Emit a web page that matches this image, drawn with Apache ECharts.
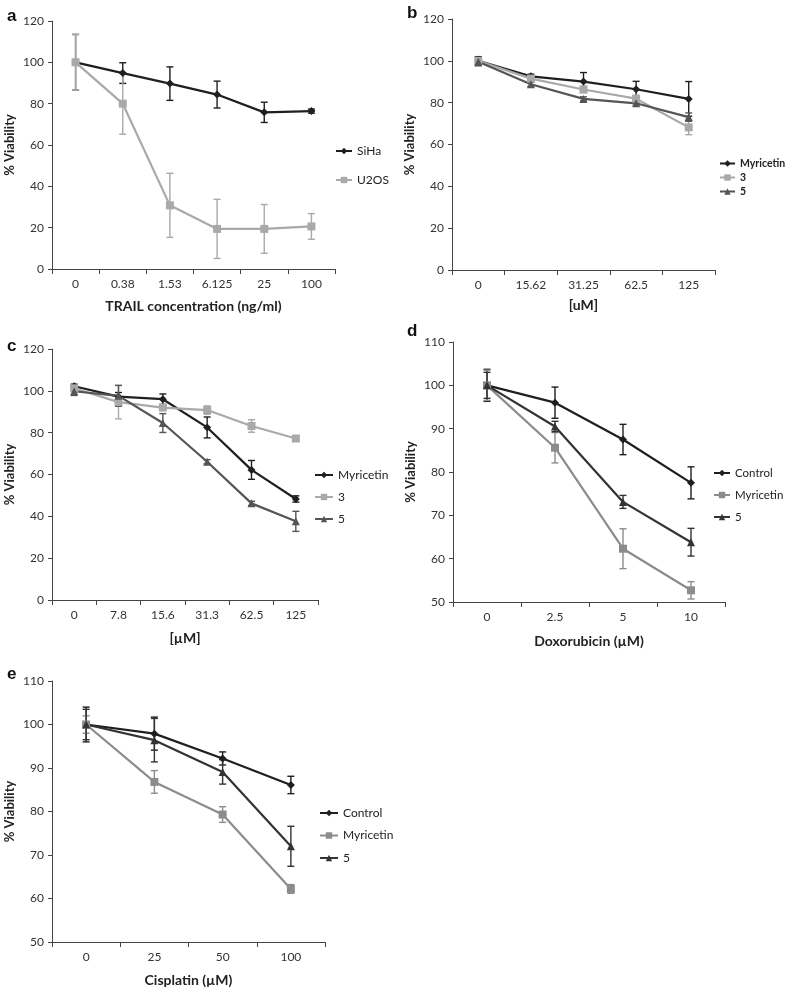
<!DOCTYPE html>
<html>
<head>
<meta charset="utf-8">
<script src="https://cdn.jsdelivr.net/npm/echarts@6/dist/echarts.min.js"></script>
<style>
html,body{margin:0;padding:0;background:#fff;}
#chart{width:793px;height:989px;}
</style>
</head>
<body>
<div id="chart"></div>
<script>
// ---------- Panel a ----------
const catsA = ['0', '0.38', '1.53', '6.125', '25', '100'];
const sihaA = [100, 94.8, 89.7, 84.4, 75.8, 76.4];
const sihaErrA = [13.5, 5, 8.1, 6.5, 4.9, 1];
const u2osA = [100, 80, 30.8, 19.4, 19.4, 20.6];
const u2osErrA = [13.5, 14.8, 15.5, 14.3, 11.8, 6.2];
// ---------- Panel b ----------
const catsB = ['0', '15.62', '31.25', '62.5', '125'];
const myrB = [100, 92.6, 90.1, 86.4, 81.8];
const myrErrB = [2, 1, 4.3, 3.8, 8.3];
const c3B = [100, 91.5, 86.3, 81.9, 68.2];
const c3ErrB = [1.5, 1, 1.5, 1.5, 3.5];
const c5B = [99.6, 88.8, 81.8, 79.7, 73.1];
const c5ErrB = [2, 1, 1, 1, 2];
// ---------- Panel c ----------
const catsC = ['0', '7.8', '15.6', '31.3', '62.5', '125'];
const myrC = [102.2, 97.2, 96, 82.5, 62.2, 48.3];
const myrErrC = [1, 2, 2.5, 5, 4.5, 1.5];
const c3C = [101.2, 94.6, 92, 90.8, 83.2, 77.2];
const c3ErrC = [1.5, 8, 1, 2, 3, 1];
const c5C = [99.8, 97.6, 84.6, 66.1, 46.2, 37.6];
const c5ErrC = [2, 5, 4.5, 1, 1, 4.8];
// ---------- Panel d ----------
const catsD = ['0', '2.5', '5', '10'];
const ctrlD = [100, 96, 87.5, 77.5];
const ctrlErrD = [3.7, 3.6, 3.5, 3.7];
const myrD = [100, 85.6, 62.3, 52.7];
const myrErrD = [3.5, 3.5, 4.6, 2];
const c5D = [100, 90.5, 73.1, 63.8];
const c5ErrD = [3, 1.2, 1.5, 3.2];
// ---------- Panel e ----------
const catsE = ['0', '25', '50', '100'];
const ctrlE = [100, 97.9, 92.2, 86.1];
const ctrlErrE = [4, 3.8, 1.5, 2];
const myrE = [100, 86.8, 79.3, 62.2];
const myrErrE = [2, 2.6, 1.8, 1];
const c5E = [100, 96.4, 89.1, 72];
const c5ErrE = [3.5, 5, 2.8, 4.6];

const FONT = 'Lato, "Open Sans", sans-serif';
const BLACK = '#1f1f1f';
const LIGHT = '#a9a9a9';
const MIDTRI = '#555555';
const MIDSQ = '#8c8c8c';
const AXISC = '#444';

const panels = [
  {key:'a', cats:catsA, grid:{left:52, top:21, width:283, height:248}, ymin:0, ymax:120, yint:20,
   xname:'TRAIL concentration (ng/ml)', nameGap:30,
   series:[
     {name:'SiHa', data:sihaA, err:sihaErrA, color:BLACK, symbol:'diamond', size:8},
     {name:'U2OS', data:u2osA, err:u2osErrA, color:LIGHT, symbol:'rect', size:8}
   ],
   legend:{left:335, top:145, gap:17, font:12, iw:16}, legendBold:false, label:{x:2, y:3}},
  {key:'b', cats:catsB, grid:{left:452, top:19, width:263, height:251}, ymin:0, ymax:120, yint:20,
   xname:'[uM]', nameGap:28,
   series:[
     {name:'Myricetin', data:myrB, err:myrErrB, color:BLACK, symbol:'diamond', size:8},
     {name:'3', data:c3B, err:c3ErrB, color:LIGHT, symbol:'rect', size:8},
     {name:'5', data:c5B, err:c5ErrB, color:MIDTRI, symbol:'triangle', size:8}
   ],
   legend:{left:719, top:158, gap:3, font:10.5, iw:15}, legendBold:true, label:{x:402, y:0}},
  {key:'c', cats:catsC, grid:{left:52, top:349, width:266, height:251}, ymin:0, ymax:120, yint:20,
   xname:'[µM]', nameGap:31,
   series:[
     {name:'Myricetin', data:myrC, err:myrErrC, color:BLACK, symbol:'diamond', size:8},
     {name:'3', data:c3C, err:c3ErrC, color:LIGHT, symbol:'rect', size:8},
     {name:'5', data:c5C, err:c5ErrC, color:MIDTRI, symbol:'triangle', size:8}
   ],
   legend:{left:314, top:469, gap:10, font:12, iw:18}, legendBold:false, label:{x:2, y:333}},
  {key:'d', cats:catsD, grid:{left:453, top:342, width:272, height:260}, ymin:50, ymax:110, yint:10,
   xname:'Doxorubicin (µM)', nameGap:32,
   series:[
     {name:'Control', data:ctrlD, err:ctrlErrD, color:BLACK, symbol:'diamond', size:8},
     {name:'Myricetin', data:myrD, err:myrErrD, color:MIDSQ, symbol:'rect', size:8},
     {name:'5', data:c5D, err:c5ErrD, color:'#333333', symbol:'triangle', size:8}
   ],
   legend:{left:713, top:467, gap:10, font:11.5, iw:16}, legendBold:false, label:{x:402, y:318}},
  {key:'e', cats:catsE, grid:{left:52, top:681, width:273, height:261}, ymin:50, ymax:110, yint:10,
   xname:'Cisplatin (µM)', nameGap:31,
   series:[
     {name:'Control', data:ctrlE, err:ctrlErrE, color:BLACK, symbol:'diamond', size:8},
     {name:'Myricetin', data:myrE, err:myrErrE, color:MIDSQ, symbol:'rect', size:8},
     {name:'5', data:c5E, err:c5ErrE, color:'#333333', symbol:'triangle', size:8}
   ],
   legend:{left:319, top:807, gap:10.5, font:12, iw:18}, legendBold:false, label:{x:2, y:661}}
];

const option = {
  animation:false,
  backgroundColor:'#fff',
  grid:[], xAxis:[], yAxis:[], series:[], legend:[], title:[]
};

function errorRenderer(color){
  return function(params, api){
    const x = api.value(0), v = api.value(1), e = api.value(2);
    const top = api.coord([x, v + e]);
    const bot = api.coord([x, v - e]);
    const cw = 3.5;
    const st = {stroke:color, lineWidth:1.4};
    return {type:'group', children:[
      {type:'line', shape:{x1:top[0], y1:top[1], x2:bot[0], y2:bot[1]}, style:st},
      {type:'line', shape:{x1:top[0]-cw, y1:top[1], x2:top[0]+cw, y2:top[1]}, style:st},
      {type:'line', shape:{x1:bot[0]-cw, y1:bot[1], x2:bot[0]+cw, y2:bot[1]}, style:st}
    ]};
  };
}

panels.forEach((p, i) => {
  option.grid.push(Object.assign({containLabel:false}, p.grid));
  option.xAxis.push({
    type:'category', gridIndex:i, data:p.cats, boundaryGap:true,
    name:p.xname, nameLocation:'middle', nameGap:p.nameGap,
    nameTextStyle:{fontFamily:FONT, fontWeight:'bold', fontSize:14, color:'#222'},
    axisLine:{lineStyle:{color:AXISC, width:1}},
    axisTick:{show:true, length:5, alignWithLabel:false, interval:0, lineStyle:{color:AXISC}},
    axisLabel:{fontFamily:FONT, fontSize:12, color:'#333', margin:9, interval:0},
    splitLine:{show:false}
  });
  option.yAxis.push({
    type:'value', gridIndex:i, min:p.ymin, max:p.ymax, interval:p.yint,
    name:'% Viability', nameLocation:'middle', nameGap:36, nameRotate:90,
    nameTextStyle:{fontFamily:FONT, fontWeight:'bold', fontSize:13, color:'#222'},
    axisLine:{show:true, lineStyle:{color:AXISC, width:1}},
    axisTick:{show:true, length:4, lineStyle:{color:AXISC}},
    axisLabel:{fontFamily:FONT, fontSize:12, color:'#333', margin:8},
    splitLine:{show:false}
  });
  const legendNames = [];
  p.series.forEach(s => {
    const sname = p.key + '|' + s.name;
    legendNames.push(sname);
    option.series.push({
      name:sname + '|err', type:'custom', xAxisIndex:i, yAxisIndex:i,
      renderItem:errorRenderer(s.color),
      data:s.data.map((v, k) => [k, v, s.err[k]]),
      z:2, silent:true
    });
    option.series.push({
      name:sname, type:'line', xAxisIndex:i, yAxisIndex:i,
      data:s.data, symbol:s.symbol, symbolSize:s.size, showSymbol:true,
      lineStyle:{color:s.color, width:2.2},
      itemStyle:{color:s.color},
      z:3
    });
  });
  option.legend.push({
    data:legendNames,
    orient:'vertical', left:p.legend.left, top:p.legend.top, itemGap:p.legend.gap,
    itemWidth:p.legend.iw, itemHeight:8, padding:0,
    formatter:function(name){ return name.split('|')[1]; },
    textStyle:{fontFamily:FONT, fontSize:p.legend.font, color:'#222', fontWeight:p.legendBold ? 'bold' : 'normal'},
    selectedMode:false
  });
  option.title.push({
    text:p.key, left:p.label.x, top:p.label.y,
    textStyle:{fontFamily:'"Liberation Sans", Arial, sans-serif', fontWeight:'bold', fontSize:17, color:'#111'}
  });
});

const chart = echarts.init(document.getElementById('chart'), null, {renderer:'canvas'});
chart.setOption(option);
</script>
</body>
</html>
